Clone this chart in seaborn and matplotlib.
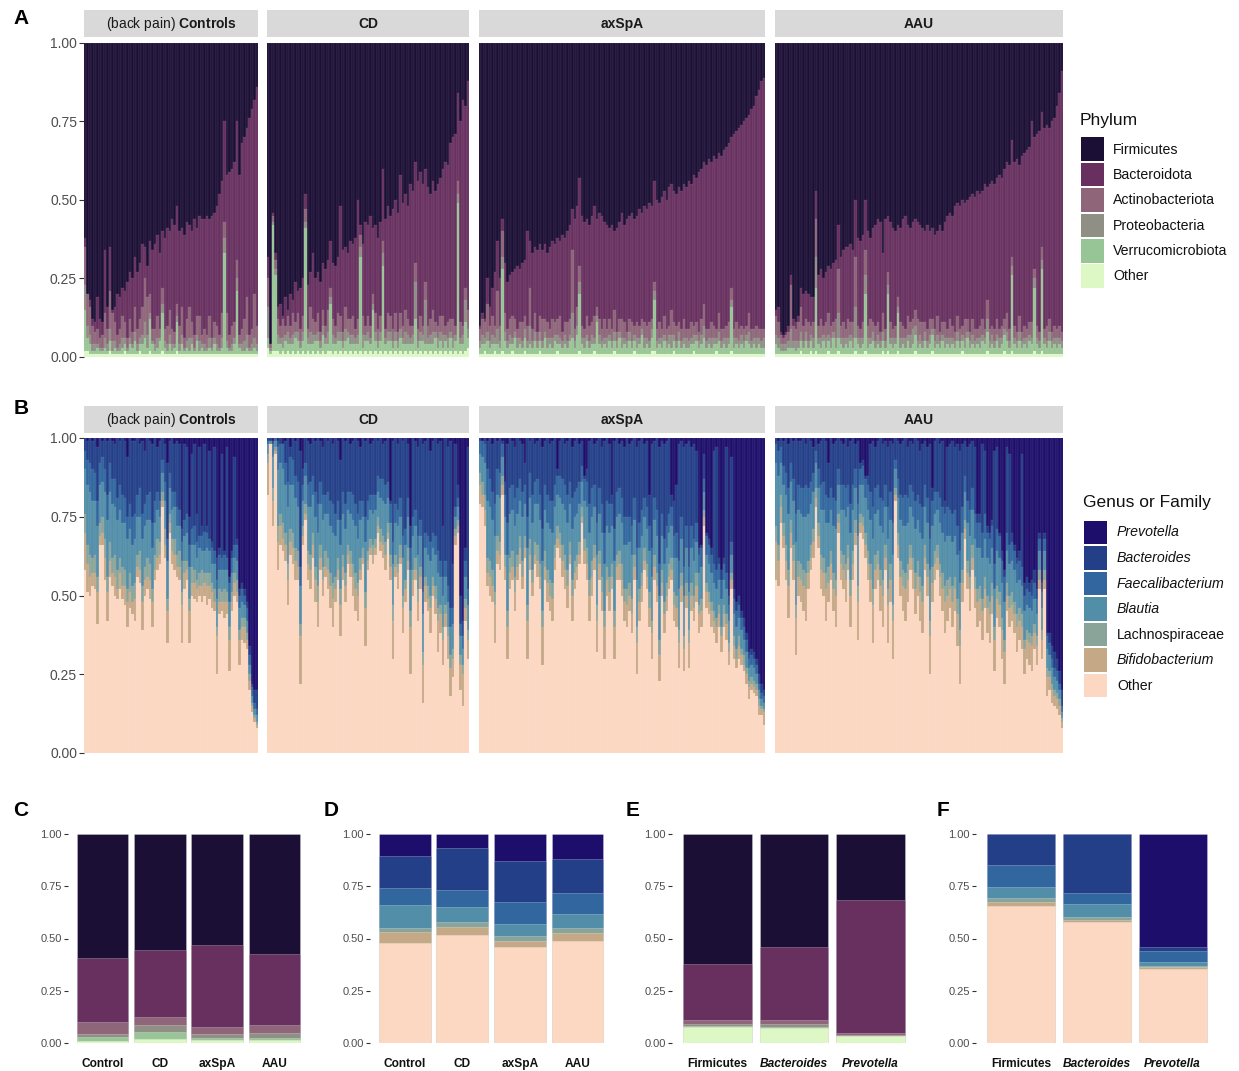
import numpy as np
import matplotlib
matplotlib.use("Agg")
import matplotlib.pyplot as plt
from matplotlib.patches import Rectangle
import seaborn as sns

# ---------------- DATA (percent) ----------------
FACETS = ["Controls", "CD", "axSpA", "AAU"]

# Panel A: per-sample phylum composition (top = upper edge of Bacteroidota; rest are layer thicknesses)
A_CTRL_TOP = [38,20,18,12,11,19,12,11,34,16, 35,15,16,20,19,22,21,24,27,25, 32,27,30,36,35,29,37,34,36,39, 33,40,38,41,40,44,42,48,40,41, 39,43,42,40,44,41,45,44,44,45, 44,45,46,48,52,56,75,58,59,60, 62,75,58,68,70,73,76,79,82,86]
A_CTRL_ACT = [12,10,9,6,4,5,3,4,8,5, 12,9,6,4,5,7,5,3,6,4, 8,5,6,9,14,12,6,4,5,7, 3,5,4,6,8,5,4,4,6,9, 3,7,10,5,4,6,8,3,5,4, 7,3,5,6,4,8,5,9,4,6, 5,6,3,5,7,12,4,5,14,6]
A_CTRL_PRO = [8,4,3,2,2,1,1,1,3,2, 4,3,2,1,2,3,2,1,2,1, 3,2,2,3,5,4,2,1,2,3, 1,3,2,2,3,2,1,2,2,3, 1,2,4,2,1,2,3,1,2,1, 3,1,2,2,1,3,5,2,1,2, 2,4,1,2,3,4,1,2,3,2]
A_CTRL_VER = [13,4,3,1,1,2,1,1,2,1, 3,1,2,1,1,2,2,1,3,2, 4,1,2,3,5,2,10,3,1,2, 4,12,2,1,3,1,2,9,1,3, 1,2,1,3,1,4,1,2,1,1, 2,1,3,1,1,2,32,2,1,1, 3,20,2,1,1,2,1,1,2,1]
A_CTRL_OTH = [2,2,1,1,1,1,1,1,1,1, 2,1,1,1,1,1,2,1,1,1, 1,1,2,1,1,1,2,1,1,1, 1,2,1,1,1,1,1,2,1,1, 1,1,1,1,1,1,1,1,1,1, 1,1,1,1,1,1,1,1,1,1, 1,1,1,1,1,1,1,1,1,1]

A_CD_TOP = [32,4,46,33,16,17,13,19,15,20, 18,24,21,22,25,52,23,27,33,25, 27,24,30,28,31,37,30,29,32,48, 34,35,33,37,36,38,50,42,36,43, 42,45,41,42,38,43,60,44,48,45, 47,50,46,58,49,52,48,55,53,62, 56,59,55,60,54,52,56,53,55,57, 60,62,61,68,70,71,84,75,82,80, 88]
A_CD_ACT = [9,1,2,3,5,4,6,3,5,4, 7,3,6,4,5,4,3,8,5,4, 6,3,5,4,7,3,5,4,6,5, 3,7,4,5,6,3,5,4,6,3, 5,4,3,6,4,5,4,3,6,5, 4,6,3,5,4,7,5,4,3,6, 4,5,3,6,4,5,7,3,4,5, 6,3,5,4,6,3,4,5,3,4, 6]
A_CD_PRO = [10,1,1,2,3,2,3,2,4,2, 3,2,3,2,3,2,2,4,3,2, 3,2,3,2,4,2,3,2,3,3, 2,4,2,3,3,2,3,3,4,2, 3,2,2,3,2,3,4,2,3,3, 2,3,2,3,2,4,3,2,3,12, 2,3,2,14,2,3,4,2,3,3, 4,2,3,2,3,2,3,2,3,7, 3]
A_CD_VER = [3,1,40,24,2,3,1,4,2,3, 2,5,3,2,3,40,2,3,2,4, 3,2,5,3,2,15,3,2,4,3, 2,3,5,2,3,2,3,30,2,3, 4,2,14,3,2,3,28,2,4,3, 2,3,2,4,3,2,3,2,3,10, 2,3,4,2,3,2,3,4,2,3, 2,3,2,4,2,3,48,2,3,9, 3]
A_CD_OTH = [3,1,2,2,2,1,2,1,2,1, 2,1,2,1,2,1,2,1,2,1, 2,1,2,1,2,2,1,2,1,2, 1,2,1,2,1,2,1,2,1,2, 1,2,1,2,1,2,1,2,1,2, 1,2,1,2,1,2,1,2,1,2, 1,2,1,2,1,2,1,2,1,2, 1,2,1,2,1,2,1,2,1,2, 3]

A_AX_TOP = [10,14,12,25,16,22,27,37,25,44, 30,24,26,27,28,29,28,30,31,40, 37,33,35,34,36,34,36,33,35,37, 36,38,37,39,38,40,42,47,44,48, 57,45,43,44,42,45,48,44,46,45, 43,42,41,42,40,41,43,46,42,44, 45,46,44,45,47,46,48,47,49,48, 56,50,49,51,53,50,54,55,53,52, 54,53,55,54,56,55,58,57,59,60, 62,61,63,62,64,63,65,64,66,67, 68,70,71,72,73,74,75,76,77,79, 80,83,85,88,89]
A_AX_ACT = [4,5,5,9,5,6,4,12,5,8, 6,4,5,7,4,3,5,6,4,5, 12,4,6,3,5,7,4,5,3,6, 4,5,7,3,4,6,5,20,4,6, 5,4,3,6,5,4,7,3,5,4, 6,3,5,4,7,3,4,6,5,3, 4,6,3,5,4,3,5,4,6,3, 3,4,5,3,6,4,3,8,4,5, 3,4,6,3,4,5,3,4,3,5, 7,4,3,5,4,3,6,4,3,4, 5,4,3,5,4,3,4,3,6,4, 3,4,3,4,3]
A_AX_PRO = [2,3,2,3,2,3,2,5,2,4, 3,2,3,2,2,3,2,2,3,2, 6,2,3,2,3,2,2,3,2,3, 2,3,2,2,3,2,2,8,2,3, 4,2,3,2,2,3,2,2,3,2, 2,3,2,2,3,2,2,3,2,2, 3,2,2,3,2,2,3,2,2,3, 3,2,2,3,2,2,3,4,2,2, 3,2,2,3,2,2,3,2,2,3, 4,2,2,3,2,2,3,2,2,3, 2,2,3,2,2,3,2,2,4,2, 2,3,2,2,3]
A_AX_VER = [2,3,2,4,2,3,2,3,2,26, 4,2,3,2,5,2,3,2,4,2, 3,2,4,2,3,2,5,2,3,2, 4,2,3,2,3,2,4,5,2,6, 18,3,2,4,2,3,2,10,3,2, 3,2,4,2,3,2,5,2,3,2, 4,2,3,2,3,6,2,3,2,4, 16,2,3,2,4,2,3,2,3,2, 4,2,3,2,2,3,2,4,2,3, 5,2,3,2,3,2,4,2,3,2, 3,14,2,3,2,3,2,4,3,2, 3,2,3,2,2]
A_AX_OTH = [1,1,2,1,1,1,2,1,1,2, 1,1,1,2,1,1,1,1,2,1, 1,1,1,1,2,1,1,1,1,1, 1,2,1,1,1,1,1,1,1,1, 2,1,1,1,1,1,2,1,1,1, 1,1,1,1,2,1,1,1,1,1, 1,1,2,1,1,1,1,1,1,2, 2,1,1,1,1,1,1,1,2,1, 1,1,1,1,1,1,2,1,1,1, 1,1,1,1,1,2,1,1,1,1, 1,2,1,1,1,1,1,1,1,1, 1,1,1,1,1]

A_AAU_TOP = [15,16,8,7,8,10,26,12,11,13, 22,20,21,20,19,19,53,26,28,25, 27,29,28,30,31,42,32,34,35,35, 36,34,50,38,37,39,50,40,38,41, 42,44,43,33,44,45,43,41,40,42, 41,44,45,42,41,43,44,43,42,41, 40,42,40,41,39,40,42,40,43,45, 46,45,48,49,48,50,49,50,51,52, 51,53,52,53,55,54,55,56,55,57, 58,57,60,62,61,69,62,63,61,64, 65,66,67,75,70,71,72,78,73,74, 73,75,76,80,84,91]
A_AAU_ACT = [6,5,3,2,3,3,14,5,4,6, 8,5,4,6,3,5,12,4,6,3, 5,7,4,3,6,14,4,5,3,6, 4,5,16,4,3,5,8,4,6,3, 5,4,3,6,4,4,5,3,4,3, 5,4,3,6,4,3,5,7,4,6, 3,4,5,3,4,6,3,4,5,3, 6,4,3,5,4,3,6,4,3,5, 4,3,4,5,3,6,4,3,4,5, 3,4,3,6,4,3,4,3,5,3, 4,3,4,5,3,4,3,4,3,5, 4,3,4,3,4,3]
A_AAU_PRO = [3,3,2,2,2,2,6,2,3,2, 3,2,3,2,2,3,10,2,3,2, 3,2,3,2,3,8,2,3,2,3, 2,3,10,2,3,2,6,3,2,3, 2,3,2,3,2,3,2,3,2,2, 3,2,3,2,4,5,3,2,3,2, 3,2,3,2,2,3,2,2,3,2, 3,2,2,3,2,2,3,2,2,3, 2,2,3,2,2,4,2,3,2,2, 3,2,2,3,2,3,2,2,3,2, 2,3,2,2,3,2,2,3,2,2, 3,2,2,3,2,2]
A_AAU_VER = [3,2,1,1,1,2,2,2,1,2, 3,2,4,2,3,2,20,3,2,4, 2,3,2,5,2,4,3,2,3,2, 4,2,4,3,2,3,18,2,3,4, 2,3,2,3,2,18,3,2,3,12, 2,3,2,4,2,3,5,2,3,2, 4,2,3,5,2,3,2,4,2,3, 2,3,2,4,2,3,2,5,2,3, 2,3,2,4,3,6,2,3,2,4, 2,3,5,4,2,24,3,2,4,2, 3,2,4,3,20,3,2,26,3,2, 4,2,3,2,3,2]
A_AAU_OTH = [1,1,1,1,1,1,1,1,1,1, 2,1,1,1,2,1,2,1,1,1, 1,2,1,1,1,2,1,1,1,1, 1,1,2,1,1,1,2,1,1,1, 1,1,1,2,1,2,1,1,1,2, 1,1,1,1,1,1,2,1,1,1, 1,1,1,2,1,1,1,1,1,1, 1,1,1,1,1,2,1,1,1,1, 1,1,1,1,1,2,1,1,1,1, 1,1,2,1,1,2,1,1,1,1, 1,1,1,1,2,1,1,2,1,1, 1,1,1,1,1,1]

# Panel B: per-sample genus composition (Other top, thicknesses above it, Prevotella thickness at top)
B_CTRL_OTH = [58,51,50,53,52,41,66,66,55,42, 56,53,50,49,52,49,47,40,46,44, 42,56,54,39,50,52,49,40,55,58, 60,78,62,35,70,60,58,56,55,35, 52,55,35,50,49,48,50,48,50,47, 49,46,45,25,44,45,43,44,26,45, 50,48,28,36,35,33,20,13,10,8]
B_CTRL_BIF = [12,9,6,4,5,10,3,4,7,9, 5,4,6,3,5,4,6,8,5,4, 7,3,4,9,5,4,6,8,3,4, 3,2,4,10,3,4,5,3,4,12, 5,3,10,4,5,4,3,5,4,6, 4,5,3,12,4,3,5,4,10,3, 4,3,8,4,5,3,3,2,1,1]
B_CTRL_LAC = [6,6,7,5,6,5,4,5,6,5, 6,5,7,6,5,6,5,4,6,5, 5,4,6,5,4,6,5,4,5,6, 4,3,5,4,3,4,5,4,5,4, 4,3,4,5,4,3,4,5,3,4, 4,3,4,3,4,3,4,3,4,3, 3,4,3,3,3,2,2,1,1,1]
B_CTRL_BLA = [14,19,20,18,17,16,12,11,15,18, 16,17,15,16,15,14,15,16,14,13, 14,12,11,15,13,12,14,13,10,9, 8,6,9,12,8,9,10,9,8,10, 8,9,10,7,8,7,8,6,7,8, 7,6,8,9,6,7,6,7,8,6, 5,6,7,5,4,4,3,2,2,2]
B_CTRL_FAE = [6,8,9,10,9,8,7,8,7,8, 9,8,9,7,8,9,8,7,8,9, 8,7,9,8,7,8,9,8,7,6, 5,4,6,7,5,6,5,6,5,6, 5,6,7,5,6,5,4,5,6,5, 4,5,4,6,5,4,5,4,6,5, 4,5,4,4,3,4,3,3,2,2]
B_CTRL_PRE = [0,1,0,1,0,3,0,1,0,1, 0,1,2,0,1,0,1,6,0,1, 1,0,2,1,4,0,1,2,0,3, 1,0,2,8,1,0,2,1,2,29, 2,3,25,5,2,24,3,28,2,28, 4,33,3,38,35,5,36,3,44,36, 6,32,48,46,48,52,66,78,80,80]

B_CD_OTH = [82,98,72,95,58,66,64,61,47,63, 60,55,55,22,66,74,55,52,62,48, 40,58,50,56,52,46,40,48,55,37, 55,48,60,56,50,45,42,55,60,34, 58,63,60,63,70,64,62,58,68,55, 30,56,52,60,38,48,58,25,50,55, 42,52,16,48,45,38,50,44,32,38, 28,40,30,18,24,66,70,20,15,42, 30]
B_CD_BIF = [10,0,8,1,9,6,4,5,8,4, 5,6,4,15,3,2,5,6,4,7, 8,4,5,3,6,7,9,4,3,10, 4,5,3,4,6,7,8,3,2,12, 3,2,3,2,2,3,4,5,2,4, 12,3,5,2,8,4,3,15,5,3, 6,4,12,5,4,8,3,5,10,6, 8,4,7,9,6,3,2,8,10,4, 6]
B_CD_LAC = [3,0,4,1,5,4,5,4,5,4, 5,4,5,4,3,3,4,5,4,4, 5,4,4,5,4,4,5,4,4,5, 4,4,3,4,4,5,4,4,3,5, 3,3,3,3,3,4,3,4,3,4, 5,4,3,4,4,3,4,5,3,4, 4,3,4,3,4,4,3,4,4,3, 4,3,3,4,3,2,2,3,3,3, 3]
B_CD_BLA = [3,1,10,2,18,16,17,15,18,14, 15,16,14,12,8,9,14,15,12,16, 17,13,15,12,14,15,16,13,12,14, 13,14,11,12,14,15,14,12,10,16, 10,9,10,9,8,10,11,12,8,10, 13,10,12,9,12,11,10,13,11,10, 11,10,12,9,10,11,9,10,11,9, 10,9,8,9,8,4,4,6,5,7, 8]
B_CD_FAE = [1,0,4,1,7,6,8,7,8,9, 8,7,8,6,5,4,7,8,6,8, 9,7,8,6,7,8,9,7,6,8, 7,8,6,7,8,7,8,6,5,8, 6,5,6,5,5,6,7,6,5,6, 7,6,5,6,7,5,6,7,6,5, 6,5,7,5,6,6,5,6,7,5, 6,5,5,6,5,3,3,4,4,5, 5]
B_CD_PRE = [0,0,1,0,1,0,2,1,0,3, 0,1,0,4,10,0,1,2,0,1, 0,1,3,0,1,0,2,0,1,7, 0,1,0,2,1,0,1,3,0,1, 0,2,1,0,1,0,2,1,0,20, 1,0,2,0,1,0,2,28,0,1, 3,0,2,1,0,4,1,0,2,1, 28,0,3,1,40,2,15,50,58,35, 3]

B_AX_OTH = [79,78,72,53,50,48,35,60,58,82, 55,30,52,55,45,55,60,52,62,30, 58,50,60,56,52,28,55,48,45,42, 58,65,62,56,52,46,60,42,52,55, 60,73,60,55,42,50,58,32,55,45, 30,50,45,52,30,55,55,50,42,40, 45,38,55,25,42,48,58,52,40,30, 55,48,23,50,38,45,52,55,42,40, 27,48,26,46,27,45,42,48,38,40, 72,46,44,40,38,35,40,32,40,36, 28,52,30,27,30,28,26,22,17,20, 19,18,12,12,9]
B_AX_BIF = [6,4,5,4,6,5,12,4,5,3, 4,10,5,4,6,4,5,4,3,12, 5,4,3,5,4,12,4,6,5,7, 4,3,4,5,6,7,3,8,5,4, 3,2,4,5,8,6,4,10,5,6, 10,5,6,4,10,4,5,5,6,7, 5,6,4,10,6,5,3,4,6,8, 4,5,8,4,6,5,4,3,5,6, 8,5,7,4,8,5,4,5,6,5, 3,5,4,5,4,5,4,5,4,5, 4,3,4,3,4,3,2,3,4,2, 2,2,3,2,4]
B_AX_LAC = [4,4,5,5,5,5,4,5,4,3, 4,5,5,5,5,4,4,5,4,5, 5,4,4,5,4,5,5,4,5,5, 4,4,4,5,5,5,4,5,4,4, 4,3,4,5,5,5,4,5,4,5, 5,4,5,4,5,4,4,5,4,5, 4,5,4,5,4,4,4,4,5,4, 4,4,5,4,4,4,4,4,4,4, 4,4,4,4,4,4,4,4,3,4, 2,3,3,3,3,3,3,3,3,3, 3,2,3,3,3,2,3,2,2,2, 2,2,2,1,1]
B_AX_BLA = [6,8,10,18,17,16,18,13,14,6, 12,18,14,13,16,13,11,14,10,18, 13,15,12,13,14,16,13,15,16,16, 12,10,11,13,14,15,12,16,14,13, 12,8,12,13,15,14,12,16,12,14, 15,13,14,12,16,12,12,13,14,14, 13,14,11,15,13,12,10,11,13,14, 11,12,14,11,12,11,10,10,11,12, 13,11,13,11,12,11,11,10,10,10, 6,9,9,9,9,9,8,9,8,8, 7,6,7,7,6,6,5,5,4,4, 4,3,3,2,2]
B_AX_FAE = [4,5,6,10,9,9,10,8,8,4, 7,10,8,8,9,8,7,8,6,10, 8,9,7,8,8,10,8,9,9,10, 7,6,7,8,8,9,7,10,8,8, 7,5,7,8,9,9,7,10,8,9, 10,8,9,7,10,8,8,8,9,9, 8,9,7,10,8,8,6,7,8,9, 7,8,10,7,8,7,6,6,7,8, 9,7,9,7,8,7,7,6,6,6, 4,6,6,6,6,6,5,6,5,5, 5,4,5,5,4,4,4,4,3,3, 3,3,2,2,2]
B_AX_PRE = [0,1,0,1,0,2,0,1,0,1, 14,2,0,1,3,0,1,2,8,0, 1,0,2,1,0,3,1,0,2,1, 0,10,1,0,2,1,0,3,1,0, 2,1,12,10,1,0,2,1,0,3, 1,0,2,18,1,0,2,1,3,0, 2,1,0,3,1,0,2,1,18,2, 1,0,3,1,2,1,0,18,20,15, 2,1,3,2,1,3,2,4,35,34, 5,30,32,35,4,3,38,42,38,3, 50,6,48,52,50,55,57,62,68,67, 68,70,75,78,80]

B_AAU_OTH = [55,53,73,65,55,43,65,55,31,50, 48,45,42,52,58,62,78,65,52,50, 42,48,55,45,40,70,55,52,48,58, 40,55,66,36,70,68,62,55,48,35, 52,55,45,40,58,35,48,30,80,62, 50,45,42,48,58,52,44,50,42,38, 58,50,25,48,55,58,50,45,38,42, 46,40,45,34,22,48,68,52,45,58, 46,40,42,36,46,38,35,44,26,43, 40,30,22,45,40,42,38,32,36,33, 25,30,28,26,33,28,52,30,52,18, 20,16,15,14,12,8]
B_AAU_BIF = [12,8,5,4,6,10,5,6,12,6, 7,8,10,5,4,5,3,4,6,7, 10,6,5,7,10,3,5,6,7,4, 10,5,4,12,3,4,4,5,7,12, 6,5,8,10,4,12,7,12,2,4, 6,8,10,7,4,6,8,6,9,10, 4,6,12,6,5,4,6,7,10,8, 6,8,7,10,12,6,3,5,7,4, 6,8,7,9,6,8,9,6,10,6, 7,9,10,5,6,5,6,8,6,7, 8,6,7,8,5,6,3,6,3,6, 4,4,3,3,3,2]
B_AAU_LAC = [5,5,4,4,5,5,4,5,4,5, 5,5,5,4,4,4,3,4,5,5, 5,5,4,5,5,3,4,5,5,4, 5,4,4,5,3,3,4,4,5,5, 5,4,5,5,4,5,5,5,2,4, 5,5,5,5,4,4,5,5,5,5, 4,4,5,5,4,4,4,5,5,5, 4,5,4,5,5,4,3,4,4,4, 4,4,4,4,4,4,4,4,4,4, 4,4,4,4,4,4,4,4,4,4, 3,3,3,3,3,3,3,3,3,3, 2,2,2,2,2,1]
B_AAU_BLA = [20,22,10,12,16,18,12,14,20,16, 16,17,18,15,13,12,8,11,14,15, 16,14,13,15,16,9,13,14,15,12, 15,13,10,16,9,10,11,13,14,16, 13,13,14,15,12,16,14,16,6,11, 13,14,15,13,12,13,14,13,14,15, 12,13,16,13,12,11,13,13,14,14, 13,14,13,14,15,12,9,12,13,11, 12,13,12,13,12,12,12,11,12,11, 11,11,12,10,10,10,10,10,9,9, 9,8,8,8,8,7,6,7,6,6, 5,5,4,4,3,2]
B_AAU_FAE = [6,8,5,6,7,8,6,7,9,8, 8,9,10,8,7,6,4,6,8,9, 9,8,7,9,9,5,8,8,9,7, 9,8,6,10,5,6,6,8,9,10, 8,8,9,10,7,10,9,10,3,6, 8,9,10,8,7,8,9,8,9,10, 7,8,10,8,7,6,8,8,9,9, 8,9,8,9,10,8,5,7,8,7, 8,8,8,8,8,8,8,7,8,7, 7,7,8,6,6,6,6,6,6,6, 5,5,5,5,5,5,4,5,4,4, 4,3,3,3,2,2]
B_AAU_PRE = [0,1,0,1,0,2,0,1,0,1, 1,0,2,0,1,3,0,2,1,0, 1,8,0,2,1,0,1,2,0,3, 1,0,2,1,8,7,12,12,2,1, 3,1,0,2,1,3,1,2,0,1, 2,1,0,3,1,2,0,1,4,2, 1,3,2,16,1,0,2,1,20,3, 2,1,3,2,4,2,1,3,2,1, 3,24,24,2,4,28,30,26,4,3, 30,36,42,3,5,30,34,38,36,5, 46,44,46,45,42,48,30,46,30,62, 62,66,68,70,74,80]

# Panel C/E: mean phylum composition (bottom -> top thicknesses; Firmicutes = remainder)
C_GROUPS = ["Control", "CD", "axSpA", "AAU"]
C_OTHER  = [1.0, 1.8, 1.3, 1.3]
C_VERRU  = [2.0, 3.5, 1.1, 1.3]
C_PROTEO = [1.5, 3.2, 1.9, 2.2]
C_ACTINO = [5.7, 4.1, 3.5, 4.0]
C_BACTER = [30.5, 31.9, 38.9, 33.9]

E_GROUPS = ["Firmicutes", "Bacteroides", "Prevotella"]
E_OTHER  = [7.7, 7.3, 3.2]
E_VERRU  = [0.4, 0.4, 0.2]
E_PROTEO = [1.0, 1.5, 0.3]
E_ACTINO = [2.1, 1.8, 0.9]
E_BACTER = [26.6, 34.9, 64.0]

# Panel D/F: mean genus composition (bottom -> top; Prevotella = remainder)
D_OTHER = [47.8, 51.8, 45.9, 49.0]
D_BIFID = [5.2, 3.9, 3.1, 3.5]
D_LACHN = [2.2, 2.4, 2.4, 2.7]
D_BLAUT = [10.8, 7.1, 5.4, 6.7]
D_FAECA = [8.0, 8.2, 10.7, 10.0]
D_BACTE = [15.6, 20.1, 19.7, 16.3]

F_OTHER = [65.7, 57.7, 35.6]
F_BIFID = [1.9, 1.3, 0.8]
F_LACHN = [1.8, 1.3, 0.6]
F_BLAUT = [5.2, 6.4, 1.9]
F_FAECA = [10.4, 5.1, 5.0]
F_BACTE = [15.0, 28.2, 2.2]

PHYLA = ["Firmicutes", "Bacteroidota", "Actinobacteriota", "Proteobacteria", "Verrucomicrobiota", "Other"]
PHY_COL = ["#1b0f35", "#67305f", "#8e6579", "#8f8f86", "#98c596", "#ddf8c5"]
GENERA = ["Prevotella", "Bacteroides", "Faecalibacterium", "Blautia", "Lachnospiraceae", "Bifidobacterium", "Other"]
GEN_COL = ["#1c0e6a", "#233f88", "#31669e", "#528ea8", "#8ba49a", "#c5a886", "#fcd7c1"]
GEN_ITALIC = [True, True, True, True, False, True, False]

# ---------------- STYLE ----------------
sns.set_theme(style="white")
plt.rcParams['font.family'] = ['Liberation Sans', 'DejaVu Sans']
plt.rcParams['mathtext.fontset'] = 'custom'
plt.rcParams['mathtext.rm'] = 'Liberation Sans'
plt.rcParams['mathtext.bf'] = 'Liberation Sans:bold'
plt.rcParams['mathtext.it'] = 'Liberation Sans:italic'

W, H = 1239, 1071
fig = plt.figure(figsize=(W / 100, H / 100), dpi=100)
fig.patch.set_facecolor("white")

def px_axes(x0, y0, x1, y1):
    return fig.add_axes([x0 / W, 1 - y1 / H, (x1 - x0) / W, (y1 - y0) / H])

def fig_rect(x0, y0, w, h, color):
    fig.add_artist(Rectangle((x0 / W, 1 - (y0 + h) / H), w / W, h / H,
                             transform=fig.transFigure, facecolor=color, edgecolor="none"))

def fig_text(x, y, s, **kw):
    fig.text(x / W, 1 - y / H, s, **kw)

def arr(v):
    return np.asarray(v, dtype=float) / 100.0

def phylum_cum(top, act, pro, ver, oth):
    o = arr(oth); v = o + arr(ver); p = v + arr(pro); a = p + arr(act)
    b = np.maximum(arr(top), a)
    return [np.ones_like(o), b, a, p, v, o]

def genus_cum(oth, bif, lac, bla, fae, pre):
    o = arr(oth); b = o + arr(bif); l = b + arr(lac); bl = l + arr(bla)
    f = np.minimum(bl + arr(fae), 1.0)
    bac = np.clip(1.0 - arr(pre), f, 1.0)
    return [np.ones_like(o), bac, f, bl, l, b, o]

def draw_layers(ax, x, layers, colors, width, lw, edge):
    for cum, col in zip(layers, colors):
        sns.barplot(x=x, y=cum, color=col, width=width, saturation=1, errorbar=None,
                    linewidth=lw, edgecolor=edge, ax=ax)

def style_axis(ax, show_y, labelsize, ticklen):
    for s in ax.spines.values():
        s.set_visible(False)
    ax.set_ylim(0, 1)
    ax.set_yticks([0, 0.25, 0.5, 0.75, 1.0])
    ax.set_xlabel(""); ax.set_ylabel("")
    if show_y:
        ax.set_yticklabels(["0.00", "0.25", "0.50", "0.75", "1.00"])
        ax.tick_params(axis="y", left=True, length=ticklen, width=0.8, color="#333333",
                       labelcolor="#4d4d4d", labelsize=labelsize, pad=1.5)
    else:
        ax.set_yticklabels([])
        ax.tick_params(axis="y", left=False, length=0)
    ax.patch.set_alpha(0)

# ---------------- PANELS A & B ----------------
FACET_X = [(84, 258), (267, 469), (479, 765), (775, 1063)]
STRIP_TXT = [r"(back pain) $\mathbf{Controls}$", "CD", "axSpA", "AAU"]

A_DATA = [
    (A_CTRL_TOP, A_CTRL_ACT, A_CTRL_PRO, A_CTRL_VER, A_CTRL_OTH),
    (A_CD_TOP, A_CD_ACT, A_CD_PRO, A_CD_VER, A_CD_OTH),
    (A_AX_TOP, A_AX_ACT, A_AX_PRO, A_AX_VER, A_AX_OTH),
    (A_AAU_TOP, A_AAU_ACT, A_AAU_PRO, A_AAU_VER, A_AAU_OTH),
]
B_DATA = [
    (B_CTRL_OTH, B_CTRL_BIF, B_CTRL_LAC, B_CTRL_BLA, B_CTRL_FAE, B_CTRL_PRE),
    (B_CD_OTH, B_CD_BIF, B_CD_LAC, B_CD_BLA, B_CD_FAE, B_CD_PRE),
    (B_AX_OTH, B_AX_BIF, B_AX_LAC, B_AX_BLA, B_AX_FAE, B_AX_PRE),
    (B_AAU_OTH, B_AAU_BIF, B_AAU_LAC, B_AAU_BLA, B_AAU_FAE, B_AAU_PRE),
]

def facet_row(y_top, y_bot, strip_top, strip_bot, datasets, cumfun, colors):
    for i, ((x0, x1), d) in enumerate(zip(FACET_X, datasets)):
        ax = px_axes(x0, y_top, x1, y_bot)
        layers = cumfun(*d)
        n = len(layers[0])
        draw_layers(ax, np.arange(n), layers, colors, 1.0, 0.3, (1, 1, 1, 0.16))
        ax.set_xlim(-0.5, n - 0.5)
        ax.set_xticks([])
        style_axis(ax, i == 0, 10, 3.5)
        fig_rect(x0, strip_top, x1 - x0, strip_bot - strip_top, "#d9d9d9")
        weight = "normal" if i == 0 else "bold"
        fig_text((x0 + x1) / 2, (strip_top + strip_bot) / 2 + 0.5, STRIP_TXT[i],
                 ha="center", va="center", fontsize=10, color="#1a1a1a", fontweight=weight)

facet_row(43, 357, 10, 37, A_DATA, phylum_cum, PHY_COL)
facet_row(438, 753, 406, 433, B_DATA, genus_cum, GEN_COL)

# legends
fig_text(1080, 120, "Phylum", ha="left", va="center", fontsize=12.5, color="#111111")
for i, (name, col) in enumerate(zip(PHYLA, PHY_COL)):
    top = 137.5 + i * 25.4
    fig_rect(1081, top, 22.5, 23.5, col)
    fig_text(1113, top + 12, name, ha="left", va="center", fontsize=10.2, color="#111111")

fig_text(1083, 503, "Genus or Family", ha="left", va="center", fontsize=12.5, color="#111111")
for i, (name, col, it) in enumerate(zip(GENERA, GEN_COL, GEN_ITALIC)):
    top = 520.5 + i * 25.5
    fig_rect(1084, top, 22.5, 23.5, col)
    fig_text(1117, top + 12, name, ha="left", va="center", fontsize=10.2, color="#111111",
             fontstyle="italic" if it else "normal")

# ---------------- PANELS C-F ----------------
def small_panel(x0, x1, groups, layers, colors, italic_flags):
    ax = px_axes(x0, 834, x1, 1043)
    draw_layers(ax, groups, layers, colors, 0.9, 0.5, (1, 1, 1, 0.35))
    n = len(groups)
    ax.set_xlim(-0.6, n - 0.4)
    style_axis(ax, True, 8, 2.8)
    ax.set_xticks(range(n))
    ax.set_xticklabels(groups)
    for lab, it in zip(ax.get_xticklabels(), italic_flags):
        lab.set_fontweight("bold")
        lab.set_fontsize(8.6)
        lab.set_color("#111111")
        if it:
            lab.set_fontstyle("italic")
    ax.tick_params(axis="x", bottom=False, length=0, pad=10.5)
    return ax

c_layers = phylum_cum([o + v + p + a + b for o, v, p, a, b in zip(C_OTHER, C_VERRU, C_PROTEO, C_ACTINO, C_BACTER)],
                      C_ACTINO, C_PROTEO, C_VERRU, C_OTHER)
small_panel(68, 309, C_GROUPS, c_layers, PHY_COL, [False] * 4)

d_pre = [100 - sum(t) for t in zip(D_OTHER, D_BIFID, D_LACHN, D_BLAUT, D_FAECA, D_BACTE)]
d_layers = genus_cum(D_OTHER, D_BIFID, D_LACHN, D_BLAUT, D_FAECA, d_pre)
small_panel(370, 612, C_GROUPS, d_layers, GEN_COL, [False] * 4)

e_layers = phylum_cum([o + v + p + a + b for o, v, p, a, b in zip(E_OTHER, E_VERRU, E_PROTEO, E_ACTINO, E_BACTER)],
                      E_ACTINO, E_PROTEO, E_VERRU, E_OTHER)
small_panel(672, 916, E_GROUPS, e_layers, PHY_COL, [False, True, True])

f_pre = [100 - sum(t) for t in zip(F_OTHER, F_BIFID, F_LACHN, F_BLAUT, F_FAECA, F_BACTE)]
f_layers = genus_cum(F_OTHER, F_BIFID, F_LACHN, F_BLAUT, F_FAECA, f_pre)
small_panel(976, 1218, E_GROUPS, f_layers, GEN_COL, [False, True, True])

# panel letters
for letter, x, y in [("A", 21, 19), ("B", 21, 408), ("C", 21, 810), ("D", 331, 810), ("E", 633, 810), ("F", 943, 810)]:
    fig_text(x, y, letter, ha="center", va="center", fontsize=15, fontweight="bold", color="black")

fig.savefig("out.png", dpi=100, facecolor="white")
